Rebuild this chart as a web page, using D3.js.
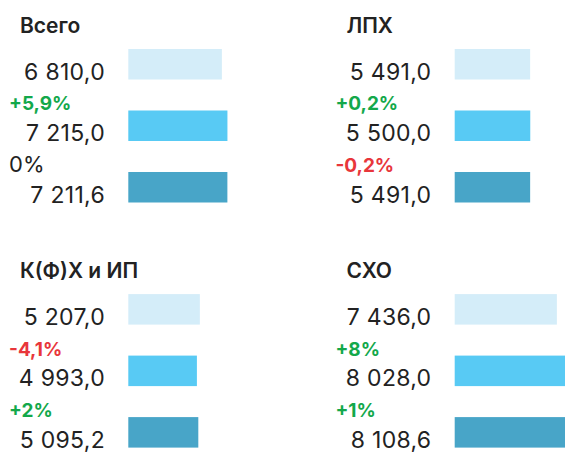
<!DOCTYPE html>
<html>
<head>
<meta charset="utf-8">
<script src="https://cdn.jsdelivr.net/npm/d3@7"></script>
<style>
  html, body { margin: 0; padding: 0; background: #ffffff; }
  svg { display: block; }
  text { font-family: Inter, "Noto Sans", sans-serif; }
</style>
</head>
<body>
<svg id="chart" width="565" height="453"></svg>
<script>
// ---- data ----
const categories = ["Всего", "ЛПХ", "К(Ф)Х и ИП", "СХО"];
const series1 = [6810.0, 5491.0, 5207.0, 7436.0];
const series2 = [7215.0, 5500.0, 4993.0, 8028.0];
const series3 = [7211.6, 5491.0, 5095.2, 8108.6];
const change2 = ["+5,9%", "+0,2%", "-4,1%", "+8%"];
const change3 = ["0%", "-0,2%", "+2%", "+1%"];

// ---- styles ----
const barColors = ["#d4edf9", "#58caf4", "#48a5c8"];
const textColor = "#222222";
const upColor = "#13a84b";
const downColor = "#e8363b";

const svg = d3.select("#chart");
const W = 565, H = 453;

const fmt = v => {
  const s = d3.format(",.1f")(v);
  return s.replace(/,/g, " ").replace(".", ",");
};

const colX = d3.scaleOrdinal().domain([0, 1]).range([0, 326.4]);
const rowY = d3.scaleOrdinal().domain([0, 1]).range([32.5, 277.6]);

const x = d3.scaleLinear().domain([0, 10000]).range([0, 137.4]);
const barStart = 128.3;

const y = d3.scaleBand().domain([0, 1, 2]).range([16.5, 16.5 + 2 * 61.5 + 30.5]).paddingInner(0.504).paddingOuter(0);

categories.forEach((cat, i) => {
  const col = i % 2, row = Math.floor(i / 2);
  const g = svg.append("g")
    .attr("transform", `translate(${colX(col)},${rowY(row)})`);

  g.append("text")
    .attr("x", 20).attr("y", 0)
    .attr("font-size", 21).attr("font-weight", 600)
    .attr("fill", textColor)
    .text(cat);

  const vals = [series1[i], series2[i], series3[i]];
  const changes = [null, change2[i], change3[i]];

  vals.forEach((v, k) => {
    g.append("rect")
      .attr("x", barStart).attr("y", y(k))
      .attr("width", x(v)).attr("height", y.bandwidth())
      .attr("fill", barColors[k]);

    g.append("text")
      .attr("x", 105).attr("y", y(k) + y.bandwidth())
      .attr("text-anchor", "end")
      .attr("font-size", 23).attr("font-weight", 400)
      .attr("letter-spacing", 0.3)
      .attr("fill", textColor)
      .text(fmt(v));

    const c = changes[k];
    if (c) {
      const pos = c.startsWith("+"), neg = c.startsWith("-");
      g.append("text")
        .attr("x", 9).attr("y", y(k))
        .attr("font-size", pos || neg ? 19 : 22)
        .attr("font-weight", pos || neg ? 700 : 400)
        .attr("fill", pos ? upColor : neg ? downColor : textColor)
        .text(c);
    }
  });
});
</script>
</body>
</html>
